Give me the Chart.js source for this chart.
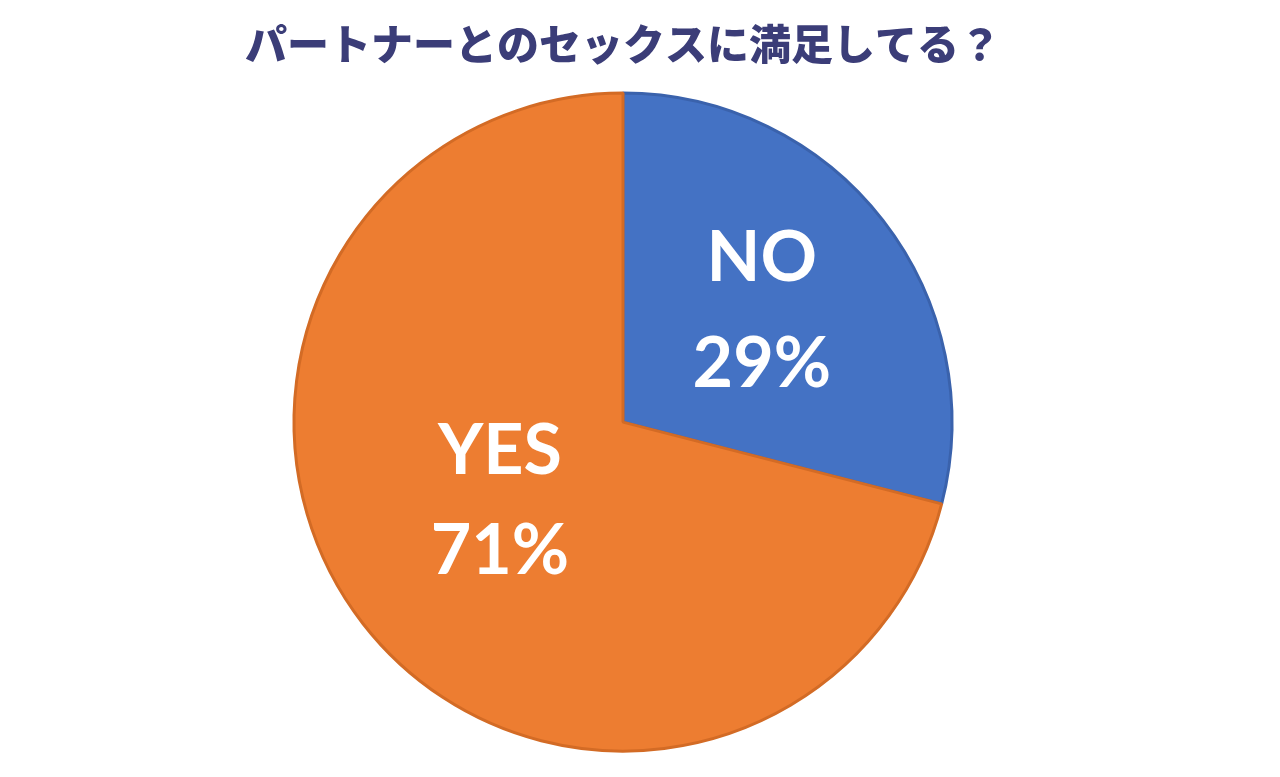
<!DOCTYPE html>
<html>
<head>
<meta charset="utf-8">
<script src="https://cdn.jsdelivr.net/npm/chart.js@4"></script>
<style>
  html, body { margin: 0; padding: 0; background: #ffffff; }
  #wrap { width: 1280px; height: 777px; }
</style>
</head>
<body>
<div id="wrap"><canvas id="canvas-pie"></canvas></div>
<script>
// datos del grafico
var titulo = "パートナーとのセックスに満足してる？";
var etiquetas = ["NO", "YES"];
var porcentajes = [29, 71];
var colores = ["#4472C4", "#ED7D31"];
var bordes = ["#3A62AC", "#D36B25"];

// etiquetas dentro de cada porcion
var pluginEtiquetas = {
    id: "etiquetasPie",
    afterDatasetsDraw: function (chart) {
        var ctx = chart.ctx;
        var meta = chart.getDatasetMeta(0);
        var factores = [0.54, 0.445];
        var giros = [-0.8, 5]; // grados
        var saltos = [53, 50];
        ctx.save();
        ctx.fillStyle = "#ffffff";
        ctx.font = "bold 70px Lato";
        ctx.textAlign = "center";
        ctx.textBaseline = "middle";
        meta.data.forEach(function (arc, i) {
            var p = arc.getProps(["x", "y", "startAngle", "endAngle", "outerRadius"], true);
            var ang = (p.startAngle + p.endAngle) / 2 + giros[i] * Math.PI / 180;
            var r = p.outerRadius * factores[i];
            var x = p.x + Math.cos(ang) * r;
            var y = p.y + Math.sin(ang) * r;
            ctx.fillText(etiquetas[i], x, y - saltos[i]);
            ctx.fillText(porcentajes[i] + "%", x, y + saltos[i]);
        });
        ctx.restore();
    },
};

var contexto = document.getElementById("canvas-pie").getContext("2d");
var chartPie = new Chart(contexto, {
    type: "pie",
    data: {
        labels: etiquetas,
        datasets: [
            {
                data: porcentajes,
                backgroundColor: colores,
                borderColor: bordes,
                borderWidth: 3,
            },
        ],
    },
    options: {
        responsive: true,
        maintainAspectRatio: false,
        animation: false,
        radius: 329,
        layout: {
            padding: { left: 0, right: 34, top: 0, bottom: 0 },
        },
        plugins: {
            legend: { display: false },
            tooltip: { enabled: false },
            title: {
                display: true,
                text: titulo,
                color: "#3B3D78",
                font: { family: "Noto Sans CJK JP", size: 42, weight: "900", lineHeight: 1.1 },
                padding: { top: 21, bottom: 0 },
            },
        },
    },
    plugins: [pluginEtiquetas],
});
</script>
</body>
</html>
